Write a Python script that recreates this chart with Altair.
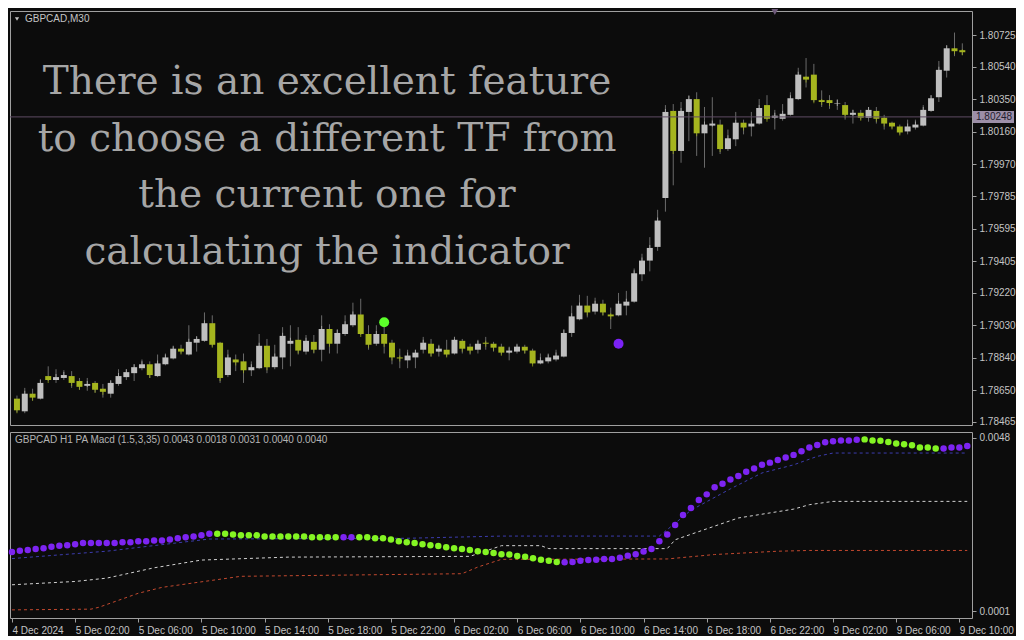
import json
import altair as alt
import pandas as pd

# ---------------- data ----------------
OPEN = [1.78601, 1.78527, 1.78630, 1.78601, 1.78733, 1.78710, 1.78722, 1.78733, 1.78704, 1.78676,
        1.78693, 1.78659, 1.78630, 1.78687, 1.78727, 1.78750, 1.78779, 1.78802, 1.78733, 1.78802,
        1.78836, 1.78893, 1.78859, 1.78928, 1.78939, 1.79042, 1.78928, 1.78739, 1.78830, 1.78819,
        1.78767, 1.78779, 1.78910, 1.78785, 1.78842, 1.78922, 1.78945, 1.78876, 1.78933, 1.78887,
        1.79008, 1.78922, 1.78979, 1.79030, 1.79093, 1.78979, 1.78922, 1.78979, 1.78928, 1.78842,
        1.78825, 1.78842, 1.78887, 1.78922, 1.78876, 1.78887, 1.78865, 1.78939, 1.78905, 1.78887,
        1.78928, 1.78922, 1.78905, 1.78870, 1.78876, 1.78905, 1.78882, 1.78807, 1.78819, 1.78830,
        1.78847, 1.78985, 1.79065, 1.79145, 1.79110, 1.79156, 1.79093, 1.79088, 1.79145, 1.79168,
        1.79328, 1.79408, 1.79488, 1.79774, 1.80283, 1.80049, 1.80277, 1.80352, 1.80152, 1.80197,
        1.80203, 1.80060, 1.80117, 1.80214, 1.80192, 1.80209, 1.80317, 1.80243, 1.80237, 1.80260,
        1.80352, 1.80483, 1.80495, 1.80346, 1.80346, 1.80326, 1.80317, 1.80260, 1.80272, 1.80243,
        1.80283, 1.80243, 1.80214, 1.80192, 1.80163, 1.80186, 1.80197, 1.80283, 1.80363, 1.80518,
        1.80649, 1.80638]
HIGH = [1.78619, 1.78664, 1.78659, 1.78716, 1.78790, 1.78773, 1.78767, 1.78762, 1.78722, 1.78722,
        1.78704, 1.78687, 1.78704, 1.78773, 1.78773, 1.78802, 1.78830, 1.78819, 1.78859, 1.78865,
        1.78905, 1.78916, 1.79030, 1.78962, 1.79105, 1.79088, 1.78933, 1.78887, 1.78859, 1.78865,
        1.78819, 1.78979, 1.78950, 1.78916, 1.79019, 1.79030, 1.79019, 1.78973, 1.78973, 1.79088,
        1.79036, 1.79008, 1.79088, 1.79162, 1.79185, 1.79030, 1.79030, 1.79030, 1.78945, 1.78893,
        1.78887, 1.78887, 1.78962, 1.78950, 1.78916, 1.78945, 1.78950, 1.78950, 1.78922, 1.78945,
        1.78962, 1.78933, 1.78922, 1.78905, 1.78916, 1.78916, 1.78893, 1.78865, 1.78865, 1.78887,
        1.79008, 1.79145, 1.79208, 1.79202, 1.79191, 1.79179, 1.79133, 1.79219, 1.79231, 1.79362,
        1.79448, 1.79545, 1.79705, 1.80317, 1.80323, 1.80335, 1.80375, 1.80392, 1.80306, 1.80363,
        1.80232, 1.80174, 1.80277, 1.80232, 1.80277, 1.80352, 1.80375, 1.80289, 1.80323, 1.80392,
        1.80535, 1.80592, 1.80558, 1.80403, 1.80375, 1.80352, 1.80335, 1.80289, 1.80289, 1.80306,
        1.80306, 1.80260, 1.80220, 1.80203, 1.80232, 1.80232, 1.80317, 1.80375, 1.80575, 1.80666,
        1.80741, 1.80678]
LOW = [1.78521, 1.78516, 1.78590, 1.78596, 1.78704, 1.78693, 1.78710, 1.78664, 1.78653, 1.78647,
       1.78636, 1.78607, 1.78607, 1.78676, 1.78710, 1.78704, 1.78767, 1.78722, 1.78727, 1.78796,
       1.78830, 1.78865, 1.78853, 1.78876, 1.78933, 1.78905, 1.78693, 1.78727, 1.78762, 1.78693,
       1.78733, 1.78773, 1.78750, 1.78773, 1.78773, 1.78790, 1.78859, 1.78859, 1.78865, 1.78819,
       1.78865, 1.78865, 1.78968, 1.79019, 1.78973, 1.78887, 1.78910, 1.78865, 1.78802, 1.78779,
       1.78779, 1.78779, 1.78865, 1.78847, 1.78847, 1.78847, 1.78859, 1.78865, 1.78859, 1.78865,
       1.78887, 1.78876, 1.78859, 1.78825, 1.78865, 1.78865, 1.78802, 1.78802, 1.78807, 1.78819,
       1.78842, 1.78962, 1.79059, 1.79076, 1.79093, 1.79088, 1.79008, 1.79082, 1.79088, 1.79162,
       1.79288, 1.79345, 1.79465, 1.79694, 1.79848, 1.79980, 1.80106, 1.80020, 1.79951, 1.80020,
       1.80031, 1.80049, 1.80077, 1.80146, 1.80134, 1.80203, 1.80232, 1.80174, 1.80226, 1.80255,
       1.80346, 1.80420, 1.80335, 1.80306, 1.80295, 1.80289, 1.80232, 1.80209, 1.80232, 1.80220,
       1.80209, 1.80174, 1.80180, 1.80146, 1.80146, 1.80174, 1.80192, 1.80277, 1.80335, 1.80478,
       1.80603, 1.80609]
CLOSE = [1.78533, 1.78630, 1.78607, 1.78693, 1.78710, 1.78727, 1.78739, 1.78693, 1.78670, 1.78687,
         1.78653, 1.78641, 1.78693, 1.78733, 1.78756, 1.78785, 1.78802, 1.78739, 1.78807, 1.78842,
         1.78893, 1.78876, 1.78933, 1.78950, 1.79042, 1.78916, 1.78722, 1.78842, 1.78813, 1.78767,
         1.78785, 1.78910, 1.78785, 1.78847, 1.78968, 1.78939, 1.78882, 1.78939, 1.78887, 1.79008,
         1.78922, 1.78985, 1.79036, 1.79093, 1.78979, 1.78916, 1.78979, 1.78922, 1.78842, 1.78836,
         1.78853, 1.78870, 1.78928, 1.78865, 1.78893, 1.78859, 1.78945, 1.78893, 1.78882, 1.78922,
         1.78922, 1.78899, 1.78870, 1.78882, 1.78905, 1.78882, 1.78807, 1.78825, 1.78842, 1.78853,
         1.78985, 1.79082, 1.79145, 1.79105, 1.79156, 1.79105, 1.79082, 1.79156, 1.79168, 1.79334,
         1.79408, 1.79482, 1.79642, 1.80277, 1.80049, 1.80283, 1.80352, 1.80152, 1.80203, 1.80209,
         1.80060, 1.80123, 1.80214, 1.80186, 1.80209, 1.80300, 1.80237, 1.80255, 1.80266, 1.80357,
         1.80495, 1.80466, 1.80346, 1.80335, 1.80329, 1.80329, 1.80260, 1.80272, 1.80243, 1.80289,
         1.80237, 1.80209, 1.80192, 1.80157, 1.80192, 1.80203, 1.80289, 1.80357, 1.80523, 1.80649,
         1.80632, 1.80626]

MACD = [0.00171, 0.00174, 0.00176, 0.00179, 0.00181, 0.00185, 0.00188, 0.00189, 0.00192, 0.00195,
        0.00195, 0.00195, 0.00195, 0.00195, 0.00197, 0.00197, 0.00200, 0.00200, 0.00202, 0.00202,
        0.00205, 0.00208, 0.00211, 0.00213, 0.00216, 0.00220, 0.00220, 0.00220, 0.00218, 0.00216,
        0.00216, 0.00216, 0.00213, 0.00213, 0.00213, 0.00213, 0.00213, 0.00213, 0.00211, 0.00211,
        0.00211, 0.00211, 0.00211, 0.00211, 0.00211, 0.00211, 0.00208, 0.00208, 0.00205, 0.00200,
        0.00197, 0.00195, 0.00192, 0.00189, 0.00187, 0.00184, 0.00181, 0.00179, 0.00176, 0.00173,
        0.00171, 0.00168, 0.00165, 0.00164, 0.00160, 0.00158, 0.00154, 0.00150, 0.00147, 0.00144,
        0.00143, 0.00144, 0.00147, 0.00149, 0.00150, 0.00152, 0.00152, 0.00155, 0.00161, 0.00165,
        0.00172, 0.00179, 0.00200, 0.00218, 0.00244, 0.00271, 0.00290, 0.00312, 0.00327, 0.00346,
        0.00356, 0.00367, 0.00377, 0.00388, 0.00397, 0.00407, 0.00413, 0.00420, 0.00427, 0.00434,
        0.00444, 0.00454, 0.00461, 0.00468, 0.00471, 0.00473, 0.00473, 0.00475, 0.00476, 0.00473,
        0.00472, 0.00469, 0.00465, 0.00463, 0.00460, 0.00454, 0.00454, 0.00451, 0.00451, 0.00454,
        0.00454, 0.00458]
MACD_STATE = (["up"] * 26 + ["down"] * 16 + ["up"] * 2 + ["down"] * 26
              + ["up"] * 38 + ["down"] * 10 + ["up"] * 4)

BLUE_I = [0, 12, 25, 50, 62, 82, 86, 91, 95, 99, 102, 104, 121]
BLUE_V = [0.00153, 0.00173, 0.00206, 0.00208, 0.00214, 0.00214, 0.00284, 0.00342, 0.00385,
          0.00407, 0.00430, 0.00439, 0.00439]
WHITE_I = [0, 8, 12, 18, 24, 35, 58, 62, 67, 68, 83, 84, 89, 92, 99, 101, 104, 121]
WHITE_V = [0.00082, 0.00091, 0.00100, 0.00128, 0.00149, 0.00157, 0.00159, 0.00188, 0.00188,
           0.00180, 0.00180, 0.00204, 0.00241, 0.00263, 0.00287, 0.00299, 0.00308, 0.00308]
RED_I = [0, 10, 11, 16, 19, 29, 57, 59, 62, 83, 89, 97, 101, 121]
RED_V = [0.00014, 0.00016, 0.00021, 0.00059, 0.00075, 0.00105, 0.00112, 0.00130, 0.00151,
         0.00152, 0.00164, 0.00173, 0.00175, 0.00175]

SIGNAL_I = [47, 77]
SIGNAL_P = [1.79048, 1.78922]
SIGNAL_STATE = ["down", "up"]

CURRENT_PRICE = 1.80248
SHIFT_BAR = 97

PRICE_TICKS = [1.80725, 1.80540, 1.80350, 1.80160, 1.79970, 1.79785, 1.79595,
               1.79405, 1.79220, 1.79030, 1.78840, 1.78650, 1.78465]
MACD_TICKS = [0.0048, 0.0001]
TICK_BARS = [0, 8, 16, 24, 32, 40, 48, 56, 64, 72, 80, 88, 96, 104, 112, 120]
TIME_LABELS = ["4 Dec 2024", "5 Dec 02:00", "5 Dec 06:00", "5 Dec 10:00", "5 Dec 14:00",
               "5 Dec 18:00", "5 Dec 22:00", "6 Dec 02:00", "6 Dec 06:00", "6 Dec 10:00",
               "6 Dec 14:00", "6 Dec 18:00", "6 Dec 22:00", "9 Dec 02:00", "9 Dec 06:00",
               "9 Dec 10:00"]

SYMBOL_LABEL = "GBPCAD,M30"
INDICATOR_LABEL = "GBPCAD H1 PA Macd (1.5,3,35) 0.0043 0.0018 0.0031 0.0040 0.0040"
OVERLAY_LINES = ["There is an excellent feature", "to choose a different TF from",
                 "the current one for", "calculating the indicator"]

# ---------------- styling ----------------
W, H1, H2 = 962, 414, 186
BG = "#0c0c0c"
FRAME = "#a0a0a0"
AXIS_TXT = "#c4c4c4"
BULL, BEAR, WICK = "#bfbfbf", "#a5b51e", "#6b6b6b"
PURPLE, LIME = "#7d24f2", "#84f523"
SIG_PURPLE, SIG_LIME = "#7b22f5", "#5cff2a"
FONT = "Liberation Sans"

xscale = alt.Scale(domain=[-0.25, 121.6], nice=False, zero=False)
pscale = alt.Scale(domain=[1.78447, 1.80867], nice=False, zero=False)
mscale = alt.Scale(domain=[-0.00008, 0.00496], nice=False, zero=False)

price_axis = alt.Axis(orient="right", values=PRICE_TICKS, format=".5f", tickSize=4,
                      labelPadding=3, domain=False, grid=False, tickColor=FRAME,
                      labelColor=AXIS_TXT, labelFont=FONT, labelFontSize=10,
                      labelOverlap=False, title=None)
label_expr = f"{json.dumps(TIME_LABELS)}[indexof({json.dumps(TICK_BARS)}, datum.value)]"
x_axis = alt.Axis(values=TICK_BARS, labelExpr=label_expr, labelAlign="left", tickSize=4,
                  labelPadding=3, domain=False, grid=False, tickColor=FRAME,
                  labelColor=AXIS_TXT, labelFont=FONT, labelFontSize=10,
                  labelOverlap=False, labelBound=False, title=None, labelFlush=False)
macd_axis = alt.Axis(orient="right", values=MACD_TICKS, format=".4f", tickSize=4,
                     labelPadding=3, domain=False, grid=False, tickColor=FRAME,
                     labelColor=AXIS_TXT, labelFont=FONT, labelFontSize=10,
                     labelOverlap=False, title=None)

XT = alt.X("i:Q", scale=xscale, axis=None)          # top panel x (no axis)
XB = alt.X("i:Q", scale=xscale, axis=x_axis)        # bottom panel x


def YP(field):
    return alt.Y(field, scale=pscale, axis=price_axis)


def YM(field):
    return alt.Y(field, scale=mscale, axis=macd_axis)


# ---------------- price panel ----------------
bars = pd.DataFrame({"i": list(range(len(OPEN))), "open": OPEN, "high": HIGH,
                     "low": LOW, "close": CLOSE})
candle_col = f"datum.close >= datum.open ? '{BULL}' : '{BEAR}'"
base = alt.Chart(bars).transform_calculate(col=candle_col)
wicks = base.mark_rule(color=WICK, strokeWidth=1).encode(
    x=XT, y=YP("low:Q"), y2="high:Q")
bodies = base.mark_bar(size=6).encode(
    x=XT, y=YP("open:Q"), y2="close:Q", color=alt.Color("col:N", scale=None))
caps = base.mark_tick(size=6, thickness=1).encode(
    x=XT, y=YP("close:Q"), color=alt.Color("col:N", scale=None))

cp = pd.DataFrame({"p": [CURRENT_PRICE], "t": [f"{CURRENT_PRICE:.5f}"]})
cp_line = alt.Chart(cp).mark_rule(color="#5e4c63", strokeWidth=1).encode(y=YP("p:Q"))
cp_box = alt.Chart(cp).mark_rect(color="#9d8fa8", yOffset=-6, y2Offset=6).encode(
    y=YP("p:Q"), y2="p:Q", x=alt.value(W + 1), x2=alt.value(W + 42))
cp_txt = alt.Chart(cp).mark_text(color="#231d30", font=FONT, fontSize=10, align="left",
                                 baseline="middle").encode(
    y=YP("p:Q"), x=alt.value(W + 4), text="t:N")

sig = pd.DataFrame({"i": SIGNAL_I, "p": SIGNAL_P, "s": SIGNAL_STATE})
signals = alt.Chart(sig).transform_calculate(
    col=f"datum.s == 'up' ? '{SIG_PURPLE}' : '{SIG_LIME}'"
).mark_circle(size=100, opacity=1).encode(
    x=XT, y=YP("p:Q"), color=alt.Color("col:N", scale=None))

shift = alt.Chart(pd.DataFrame({"i": [SHIFT_BAR]})).mark_point(
    shape="triangle-down", filled=True, size=45, color="#6e5a7a", opacity=1).encode(
    x=XT, y=alt.value(1))

sym_tri = alt.Chart(pd.DataFrame({"a": [0]})).mark_point(
    shape="triangle-down", filled=True, size=18, color=AXIS_TXT, opacity=1).encode(
    x=alt.value(7), y=alt.value(8))
sym_txt = alt.Chart(pd.DataFrame({"t": [SYMBOL_LABEL]})).mark_text(
    color=AXIS_TXT, font=FONT, fontSize=10, align="left", baseline="middle").encode(
    x=alt.value(15), y=alt.value(8), text="t:N")

overlay = alt.Chart(pd.DataFrame({"t": ["\n".join(OVERLAY_LINES)]})).mark_text(
    color="#a6a6a6", font="DejaVu Serif", fontSize=39, align="center", baseline="middle",
    lineBreak="\n", lineHeight=56.5).encode(
    x=alt.value(317), y=alt.value(71), text="t:N")

top = alt.layer(wicks, bodies, caps, cp_line, cp_box, cp_txt, signals, shift,
                sym_tri, sym_txt, overlay).properties(width=W, height=H1)


# ---------------- indicator panel ----------------
def dashed(ix, vals, color):
    df = pd.DataFrame({"i": ix, "v": vals})
    return alt.Chart(df).mark_line(color=color, strokeWidth=1, strokeDash=[3, 3]).encode(
        x=XB, y=YM("v:Q"))


blue = dashed(BLUE_I, BLUE_V, "#3c3cae")
white = dashed(WHITE_I, WHITE_V, "#d2d2d2")
red = dashed(RED_I, RED_V, "#c2482e")

macd_df = pd.DataFrame({"i": list(range(len(MACD))), "v": MACD, "s": MACD_STATE})
dots = alt.Chart(macd_df).transform_calculate(
    col=f"datum.s == 'up' ? '{PURPLE}' : '{LIME}'"
).mark_circle(size=42, opacity=1).encode(
    x=XB, y=YM("v:Q"), color=alt.Color("col:N", scale=None))

ind_txt = alt.Chart(pd.DataFrame({"t": [INDICATOR_LABEL]})).mark_text(
    color="#b4b4b4", font=FONT, fontSize=10, align="left", baseline="middle").encode(
    x=alt.value(5), y=alt.value(8), text="t:N")

bottom = alt.layer(blue, white, red, dots, ind_txt).properties(width=W, height=H2)

chart = alt.vconcat(top, bottom, spacing=3).properties(
    background=BG, padding={"left": 0, "top": 0, "right": 0, "bottom": 0}
).configure_view(stroke=FRAME, strokeWidth=1, fill=BG).configure_concat(spacing=3)

chart.save("out.html", embed_options={"renderer": "svg", "actions": False})
